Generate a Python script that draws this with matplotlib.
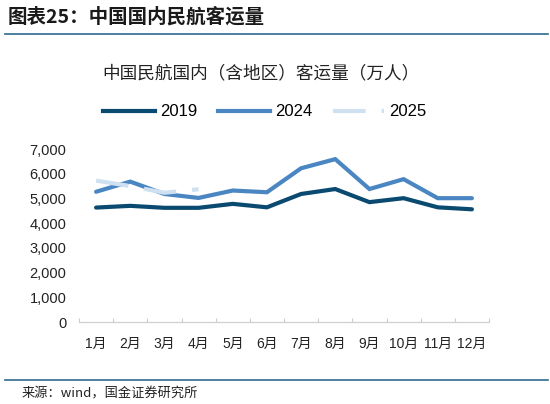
import numpy as np
import matplotlib
matplotlib.use("Agg")
import matplotlib.pyplot as plt
from matplotlib.ticker import FuncFormatter, FixedLocator
from matplotlib.lines import Line2D

plt.rcParams['font.family'] = ['Liberation Sans', 'Noto Sans CJK SC', 'DejaVu Sans']

# data (万人)
months = ['1月', '2月', '3月', '4月', '5月', '6月', '7月', '8月', '9月', '10月', '11月', '12月']
y2019 = [4630, 4700, 4620, 4620, 4780, 4640, 5180, 5380, 4850, 5010, 4640, 4560]
y2024 = [5270, 5680, 5180, 5020, 5320, 5250, 6220, 6590, 5380, 5780, 5010, 5010]
y2025 = [5720, 5500, 5230, 5370]

c2019 = '#0b4a70'
c2024 = '#4a86c2'
c2025 = '#cfe0f1'
lw = 3.0
dash25 = (23.5 / lw, 11.5 / lw)

fig = plt.figure(figsize=(5.5, 4.04), dpi=100)
ax = fig.add_axes([79 / 550, 1 - 322 / 404, 410 / 550, 173 / 404])

x = np.arange(len(months))
ax.plot(x, y2019, color=c2019, lw=lw, solid_capstyle='round', solid_joinstyle='miter', zorder=3)
ax.plot(x, y2024, color=c2024, lw=lw, solid_capstyle='round', solid_joinstyle='miter', zorder=2)
ax.plot(x[:len(y2025)], y2025, color=c2025, lw=lw, dashes=dash25,
        dash_capstyle='butt', zorder=4)

ax.set_xlim(-0.5, len(months) - 0.5)
ax.set_ylim(0, 7000)
ax.set_yticks(np.arange(0, 7001, 1000))
ax.yaxis.set_major_formatter(FuncFormatter(lambda v, p: f'{int(v):,}'))
ax.tick_params(axis='y', length=0, pad=9, labelsize=10.5, labelcolor='#222222')

ax.set_xticks(x)
ax.set_xticklabels(months)
ax.xaxis.set_minor_locator(FixedLocator(np.arange(-0.5, len(months), 1.0)))
ax.tick_params(axis='x', which='major', length=0, pad=11, labelsize=10, labelcolor='#222222')
ax.tick_params(axis='x', which='minor', length=3, width=0.8, direction='in', color='#cccccc')

for s in ['top', 'right', 'left']:
    ax.spines[s].set_visible(False)
ax.spines['bottom'].set_color('#d0d0d0')
ax.spines['bottom'].set_linewidth(0.9)

# legend
handles = [
    Line2D([], [], color=c2019, lw=lw),
    Line2D([], [], color=c2024, lw=lw),
    Line2D([], [], color=c2025, lw=lw, dashes=dash25, dash_capstyle='butt'),
]
fig.legend(handles, ['2019', '2024', '2025'], loc='center', bbox_to_anchor=(265 / 550, 1 - 112 / 404),
           ncol=3, frameon=False, fontsize=12, handlelength=3.1, handletextpad=0.3,
           columnspacing=1.25, borderpad=0, borderaxespad=0)

# chart title
fig.text(261 / 550, 1 - 73 / 404, '中国民航国内（含地区）客运量（万人）', ha='center', va='center',
         fontsize=12.7, color='#222222', family=['Noto Sans CJK SC'])

# header and footer
fig.text(8 / 550, 1 - 17 / 404, '图表25：中国国内民航客运量', ha='left', va='center',
         fontsize=14, fontweight='bold', color='#1a1a1a', family=['Noto Sans CJK SC'])
fig.add_artist(Line2D([5 / 550, 548 / 550], [1 - 34 / 404, 1 - 34 / 404], color='#2e6a90', lw=1.2))
fig.add_artist(Line2D([5 / 550, 548 / 550], [1 - 380 / 404, 1 - 380 / 404], color='#2e6a90', lw=1.2))
fig.text(22 / 550, 1 - 394 / 404, '来源：wind，国金证券研究所', ha='left', va='center',
         fontsize=9.5, color='#222222', family=['Noto Sans CJK SC'])

fig.savefig('out.png', dpi=100)
